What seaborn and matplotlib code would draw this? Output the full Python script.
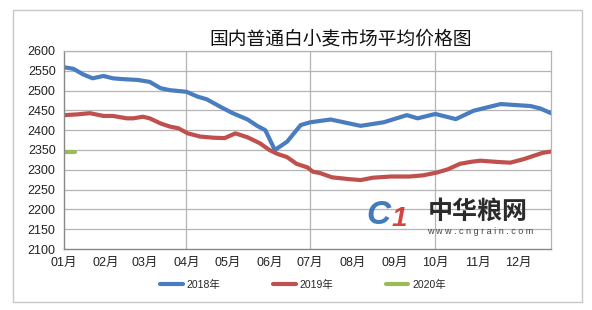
import matplotlib
matplotlib.use("Agg")
import matplotlib.pyplot as plt
import matplotlib.patches as mpatches
from matplotlib.lines import Line2D
import seaborn as sns
import pandas as pd

# ---------------- data ----------------
title = "国内普通白小麦市场平均价格图"
month_labels = ["01月", "02月", "03月", "04月", "05月", "06月",
                "07月", "08月", "09月", "10月", "11月", "12月"]
yticks = list(range(2100, 2601, 50))

dates_2018 = ["01-01", "01-08", "01-15", "01-22", "01-30", "02-06", "02-13",
              "02-24", "03-05", "03-13", "03-20", "04-01", "04-09", "04-16",
              "04-26", "05-05", "05-16", "05-23", "05-29", "06-05", "06-14",
              "06-24", "07-01", "07-16", "08-07", "08-24", "09-10", "09-18",
              "10-01", "10-16", "10-29", "11-05", "11-18", "12-10", "12-17",
              "12-25"]
price_2018 = [2559, 2555, 2541, 2531, 2537, 2531, 2529,
              2527, 2522, 2506, 2501, 2497, 2485, 2478,
              2459, 2443, 2427, 2411, 2400, 2350, 2371,
              2413, 2420, 2427, 2411, 2420, 2438, 2430,
              2441, 2428, 2449, 2455, 2466, 2461, 2455,
              2443]

dates_2019 = ["01-01", "01-11", "01-20", "01-30", "02-06", "02-16", "02-21",
              "02-28", "03-05", "03-13", "03-20", "03-26", "04-02", "04-11",
              "04-21", "04-29", "05-07", "05-16", "05-25", "06-01", "06-07",
              "06-14", "06-21", "06-29", "07-03", "07-08", "07-17", "07-28",
              "08-07", "08-16", "08-29", "09-12", "09-22", "10-02", "10-10",
              "10-19", "10-27", "11-03", "11-15", "11-25", "12-05", "12-12",
              "12-19", "12-25"]
price_2019 = [2438, 2440, 2443, 2436, 2436, 2430, 2430,
              2434, 2430, 2417, 2409, 2405, 2392, 2384,
              2381, 2380, 2392, 2382, 2367, 2350, 2340,
              2332, 2315, 2306, 2295, 2292, 2281, 2277,
              2274, 2280, 2283, 2283, 2286, 2293, 2301,
              2315, 2320, 2323, 2320, 2318, 2327, 2335,
              2343, 2346]

dates_2020 = ["01-01", "01-09"]
price_2020 = [2345, 2345]

series_names = ["2018年", "2019年", "2020年"]
colors = {"2018年": "#4a7dbf", "2019年": "#c0504d", "2020年": "#9bbb59"}

# ---------------- build frame ----------------
frames = []
for name, d, p in zip(series_names, [dates_2018, dates_2019, dates_2020],
                      [price_2018, price_2019, price_2020]):
    frames.append(pd.DataFrame({"date": pd.to_datetime(["2019-" + s for s in d]),
                                "price": p, "year": name}))
df = pd.concat(frames, ignore_index=True)

sns.set_theme(style="white")
plt.rcParams["font.family"] = ["Liberation Sans", "Noto Sans CJK SC", "DejaVu Sans"]

fig = plt.figure(figsize=(5.92, 3.10), dpi=100)
fig.patch.set_facecolor("white")
ax = fig.add_axes([64 / 592, 1 - 249 / 310, (551 - 64) / 592, (249 - 51) / 310])

# outer frame
fig.patches.append(mpatches.Rectangle((13 / 592, 1 - 302 / 310), (582 - 13) / 592,
                                      (302 - 10) / 310, transform=fig.transFigure,
                                      fill=False, edgecolor="#c8c8c8", lw=1.0))

sns.lineplot(data=df, x="date", y="price", hue="year", palette=colors,
             hue_order=series_names, lw=3.0, ax=ax, legend=False,
             estimator=None, sort=False)

ax.set_xlim(pd.Timestamp("2019-01-01"), pd.Timestamp("2019-12-25"))
ax.set_ylim(2100, 2600)
ax.set_yticks(yticks)
ax.set_yticklabels([str(v) for v in yticks], fontsize=9, color="#222222")

month_ticks = [pd.Timestamp(f"2019-{m:02d}-01") for m in range(1, 13)]
ax.set_xticks(month_ticks)
ax.set_xticklabels(month_labels, fontsize=9, color="#222222")
ax.set_xlabel("")
ax.set_ylabel("")

# grid: horizontal every 50, vertical every quarter
for v in yticks[1:]:
    ax.axhline(v, color="#b4b4b4", lw=0.9, zorder=0)
for m in [4, 7, 10]:
    ax.axvline(pd.Timestamp(f"2019-{m:02d}-01"), color="#b4b4b4", lw=0.9, zorder=0)

ax.tick_params(axis="y", length=0, pad=6)
ax.tick_params(axis="x", direction="in", length=5, width=0.8, color="#888888", pad=6)
for s in ["left", "bottom"]:
    ax.spines[s].set_color("#888888")
    ax.spines[s].set_linewidth(1.0)
for s in ["top", "right"]:
    ax.spines[s].set_color("#b4b4b4")
    ax.spines[s].set_linewidth(0.9)

# title
fig.text(341 / 592, 1 - 39 / 310, title, ha="center", va="center",
         fontsize=13.5, color="#111111",
         family=["Noto Sans CJK SC", "DejaVu Sans"])

# watermark
fig.text(378 / 592, 1 - 216 / 310, "C", ha="center", va="center", fontsize=24,
         fontweight="bold", style="italic", color="#2f6db5", alpha=0.9)
fig.text(399 / 592, 1 - 219 / 310, "1", ha="center", va="center", fontsize=20,
         fontweight="bold", style="italic", color="#d0312d", alpha=0.9)
fig.text(478 / 592, 1 - 212 / 310, "中华粮网", ha="center", va="center",
         fontsize=18, fontweight="bold", color="#2b2b2b",
         family=["Noto Sans CJK SC", "DejaVu Sans"])
fig.text(480 / 592, 1 - 232 / 310, "w w w . c n g r a i n . c o m", ha="center",
         va="center", fontsize=6.5, color="#444444")

# legend
handles = [Line2D([0], [0], color=colors[n], lw=3.0) for n in series_names]
fig.legend(handles, series_names, loc="center", bbox_to_anchor=(303 / 592, 1 - 285 / 310),
           ncol=3, frameon=False, fontsize=7.5, handlelength=2.2,
           handletextpad=0.4, columnspacing=5.0)

fig.savefig("out.png", dpi=100, facecolor="white")
